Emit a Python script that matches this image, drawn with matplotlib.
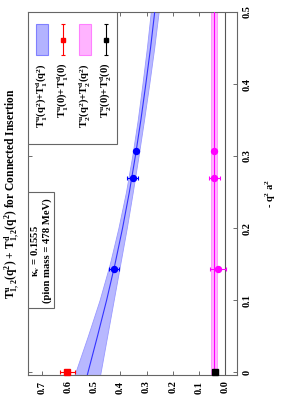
import matplotlib
matplotlib.use("Agg")
import matplotlib.pyplot as plt
from matplotlib.patches import Rectangle
import numpy as np

plt.rcParams['font.family'] = ['Liberation Serif', 'DejaVu Serif']
plt.rcParams['font.weight'] = 'bold'
plt.rcParams['mathtext.fontset'] = 'custom'
plt.rcParams['mathtext.rm'] = 'Liberation Serif:bold'
plt.rcParams['mathtext.it'] = 'Liberation Serif:bold'
plt.rcParams['mathtext.bf'] = 'Liberation Serif:bold'

# data: -q^2 a^2 and T values
q2_T1 = [0.143, 0.270, 0.307]
T1 = [0.425, 0.353, 0.340]
T1_err = [0.020, 0.021, 0.006]

q2_T2 = [0.143, 0.270, 0.307]
T2 = [0.028, 0.041, 0.041]
T2_err = [0.030, 0.022, 0.005]

T1_zero = 0.604
T1_zero_err = 0.029
T2_zero = 0.038
T2_zero_err = 0.004

# fit curves
q2_fit = [-0.004, 0.05, 0.1, 0.15, 0.2, 0.25, 0.3, 0.35, 0.4, 0.45, 0.5]
T1_fit = [0.527, 0.488, 0.453, 0.421, 0.392, 0.366, 0.343, 0.322, 0.303, 0.285, 0.269]
T1_fit_err = [0.049, 0.037, 0.027, 0.020, 0.016, 0.013, 0.012, 0.012, 0.013, 0.014, 0.015]
T2_fit = [0.041] * 11
T2_fit_err = [0.011] * 11

W, H = 283, 403
fig = plt.figure(figsize=(W / 100, H / 100), dpi=100)
L, R, TOP, BOT = 28, 237, 12, 375
ax = fig.add_axes([L / W, 1 - BOT / H, (R - L) / W, (BOT - TOP) / H])

def px(x, y):
    return ((x - L) / (R - L), (BOT - y) / (BOT - TOP))

ax.axvline(0, color='#555555', lw=0.8, zorder=1)

t1 = np.array(T1_fit); e1 = np.array(T1_fit_err)
ax.fill_betweenx(q2_fit, t1 - e1, t1 + e1, facecolor=(0.72, 0.72, 1.0),
                 edgecolor=(0.6, 0.6, 1.0), lw=0.6, zorder=2)
ax.plot(T1_fit, q2_fit, color='#3333ff', lw=0.8, zorder=3)

t2 = np.array(T2_fit); e2 = np.array(T2_fit_err)
ax.fill_betweenx(q2_fit, t2 - e2, t2 + e2, facecolor=(1.0, 0.7, 1.0),
                 edgecolor=(1.0, 0.55, 1.0), lw=0.6, zorder=2)
ax.plot(T2_fit, q2_fit, color='#ff00ff', lw=0.8, zorder=3)

ax.errorbar(T1, q2_T1, xerr=T1_err, fmt='o', color='blue', ms=4.3,
            capsize=1.5, elinewidth=0.8, capthick=0.8, zorder=4)
ax.errorbar(T2, q2_T2, xerr=T2_err, fmt='o', color='#ff00ff', ms=4.3,
            capsize=1.5, elinewidth=0.8, capthick=0.8, zorder=4)
ax.errorbar([T1_zero], [0], xerr=[T1_zero_err], fmt='s', color='red', ms=4,
            capsize=1.5, elinewidth=0.8, capthick=0.8, zorder=5, clip_on=False)
ax.errorbar([T2_zero], [0], xerr=[T2_zero_err], fmt='s', color='black', ms=4,
            capsize=1.5, elinewidth=0.8, capthick=0.8, zorder=5, clip_on=False)

ax.set_xlim(0.754, -0.046)
ax.set_ylim(-0.004, 0.5)
xt = [0.0, 0.1, 0.2, 0.3, 0.4, 0.5, 0.6, 0.7]
ax.set_xticks(xt)
ax.set_xticklabels(['%.1f' % v for v in xt], rotation=90, fontsize=7.5, fontweight='bold')
yt = [0, 0.1, 0.2, 0.3, 0.4, 0.5]
ax.set_yticks(yt)
ax.set_yticklabels(['0', '0.1', '0.2', '0.3', '0.4', '0.5'], rotation=90,
                   fontsize=7.5, fontweight='bold', va='center')
ax.yaxis.tick_right()
ax.tick_params(direction='in', length=3, width=0.6, color='#555555',
               top=True, bottom=True, left=True, right=True, pad=4)
for s in ax.spines.values():
    s.set_color('#666666')
    s.set_linewidth(0.8)

ax.text(1.16, 0.5, r'- q$^{2}$ a$^{2}$', transform=ax.transAxes, rotation=90,
        ha='center', va='center', fontsize=7.5, fontweight='bold')

fig.text(12 / W, 1 - 194 / H,
         r'T$^{u}_{1,2}$(q$^2$) + T$^{d}_{1,2}$(q$^2$) for Connected Insertion',
         rotation=90, ha='center', va='center', fontsize=8.3, fontweight='bold')

# legend box
x0, y0 = px(28, 144)
x1, y1 = px(117, 12)
ax.add_patch(Rectangle((x0, y0), x1 - x0, y1 - y0, transform=ax.transAxes,
                       facecolor='white', edgecolor='#666666', lw=0.8, zorder=6))
labels = [r'T$^{u}_{1}$(q$^2$)+T$^{d}_{1}$(q$^2$)', r'T$^{u}_{1}$(0)+T$^{d}_{1}$(0)',
          r'T$^{u}_{2}$(q$^2$)+T$^{d}_{2}$(q$^2$)', r'T$^{u}_{2}$(0)+T$^{d}_{2}$(0)']
cols = [42, 63, 85, 106]
for i, (lab, cx) in enumerate(zip(labels, cols)):
    tx, ty = px(cx, 63)
    ax.text(tx, ty, lab, transform=ax.transAxes, rotation=90, rotation_mode='anchor',
            ha='right', va='center', fontsize=7.7, fontweight='bold', zorder=7)
    if i in (0, 2):
        fc = (0.7, 0.7, 1.0) if i == 0 else (1.0, 0.7, 1.0)
        ec = (0.5, 0.5, 1.0) if i == 0 else (1.0, 0.5, 1.0)
        rx0, ry0 = px(cx - 6, 55)
        rx1, ry1 = px(cx + 6, 24)
        ax.add_patch(Rectangle((rx0, ry0), rx1 - rx0, ry1 - ry0, transform=ax.transAxes,
                               facecolor=fc, edgecolor=ec, lw=0.8, zorder=7))
    else:
        c = 'red' if i == 1 else 'black'
        ex, eya = px(cx, 55)
        _, eyb = px(cx, 24)
        _, ym = px(cx, 40)
        ax.errorbar([ex], [ym], yerr=[[ym - eya], [eyb - ym]], fmt='s', color=c, ms=3.5,
                    capsize=1.5, elinewidth=0.8, capthick=0.8, transform=ax.transAxes,
                    zorder=8, clip_on=False)

# kappa box
kx0, ky0 = px(28, 308)
kx1, ky1 = px(54, 192)
ax.add_patch(Rectangle((kx0, ky0), kx1 - kx0, ky1 - ky0, transform=ax.transAxes,
                       facecolor='white', edgecolor='#666666', lw=0.8, zorder=6))
tx, ty = px(41, 251)
ax.text(tx, ty, '$\\kappa_v$ = 0.1555\n(pion mass = 478 MeV)', transform=ax.transAxes,
        rotation=90, ha='center', va='center', multialignment='center',
        fontsize=7.7, fontweight='bold', zorder=7, linespacing=1.1)

fig.savefig('out.png', dpi=100)
